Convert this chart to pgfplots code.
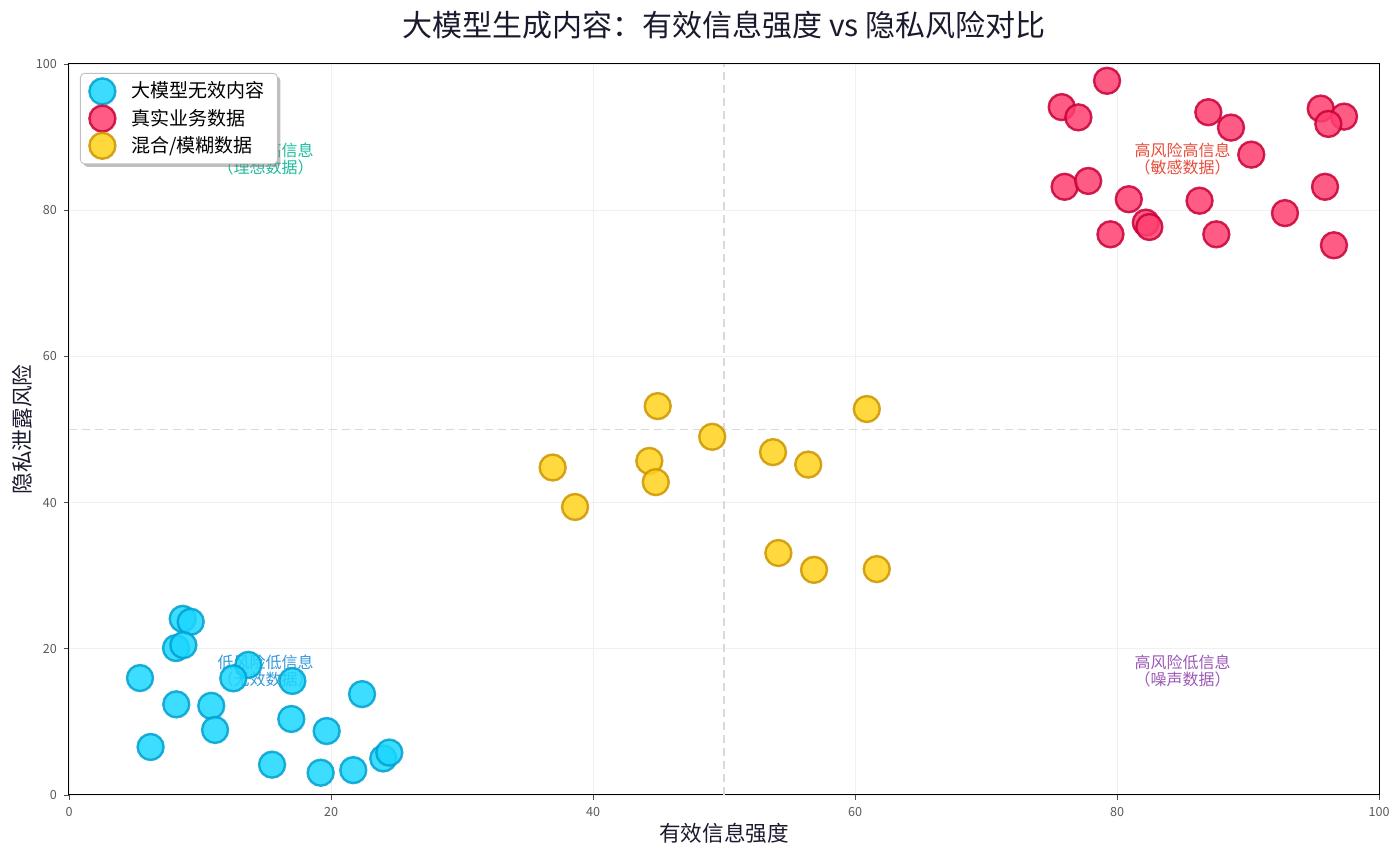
\documentclass[border=0pt]{standalone}
\usepackage{fontspec}
\setmainfont{Noto Sans CJK SC}
\usepackage{pgfplots}
\pgfplotsset{compat=1.18}
\usetikzlibrary{shadows}
\definecolor{cyF}{HTML}{1BD7FF}
\definecolor{cyE}{HTML}{00A1D1}
\definecolor{rdF}{HTML}{FF3F70}
\definecolor{rdE}{HTML}{C90037}
\definecolor{ylF}{HTML}{FFD21B}
\definecolor{ylE}{HTML}{CD9500}
\definecolor{titleC}{HTML}{1A1A2E}
\definecolor{anTeal}{HTML}{1ABC9C}
\definecolor{anBlue}{HTML}{3498DB}
\definecolor{anRed}{HTML}{E74C3C}
\definecolor{anPurple}{HTML}{9B59B6}
\begin{document}
\begin{tikzpicture}
\useasboundingbox (-34.5pt,-30pt) rectangle (665.5pt,397.5pt);
\begin{axis}[
  scale only axis,
  width=655pt, height=365.5pt,
  xmin=0, xmax=100, ymin=0, ymax=100,
  xtick={0,20,40,60,80,100}, ytick={0,20,40,60,80,100},
  /pgf/number format/assume math mode=true,
  tick label style={font=\fontsize{6.3}{7}\selectfont, text=black!65},
  tick align=outside, major tick length=2.5pt,
  tick style={black!70, line width=0.4pt},
  xtick pos=bottom, ytick pos=left,
  axis line style={line width=0.5pt},
  grid=major, grid style={black!6, line width=0.4pt},
  title={大模型生成内容：有效信息强度 vs 隐私风险对比},
  every axis title shift=0pt,
  title style={at={(axis description cs:0.5,1)}, anchor=center, yshift=19.5pt, font=\fontsize{15}{17}\selectfont, text=titleC},
  xlabel={有效信息强度},
  ylabel={隐私泄露风险},
  xlabel style={at={(axis description cs:0.5,0)}, anchor=center, yshift=-19pt, font=\fontsize{10.8}{12}\selectfont, text=titleC},
  ylabel style={at={(axis description cs:0,0.5)}, anchor=center, yshift=23.5pt, font=\fontsize{10.8}{12}\selectfont, text=titleC},
  legend style={at={(axis description cs:0,1)}, anchor=north west, xshift=5.5pt, yshift=-4.5pt,
    draw=black!25, rounded corners=2pt, fill=white,
    drop shadow={shadow xshift=1.5pt, shadow yshift=-1.5pt, fill=black!50},
    font=\fontsize{9.5}{11}\selectfont, row sep=0.6pt, inner xsep=4.5pt, inner ysep=2.5pt,
    nodes={inner ysep=1.2pt, inner xsep=2pt},
    /tikz/every odd column/.append style={column sep=6pt}},
  legend cell align=left,
]
\addplot[only marks, mark=*, mark size=6.5pt, mark options={fill=cyF, draw=cyE, line width=1.2pt, opacity=0.85}]
coordinates {
(8.68,24.1) (9.29,23.7) (8.17,20.1) (8.73,20.5) (5.42,16.0) (13.69,17.8)
(12.54,15.96) (17.05,15.6) (22.37,13.8) (8.19,12.4) (10.86,12.2) (11.15,8.9)
(16.97,10.4) (19.67,8.75) (6.23,6.57) (15.5,4.15) (19.21,3.05) (21.7,3.4)
(23.99,5.0) (24.45,5.8)
};
\addlegendentry{大模型无效内容}
\addplot[only marks, mark=*, mark size=6.5pt, mark options={fill=rdF, draw=rdE, line width=1.2pt, opacity=0.85}]
coordinates {
(79.24,97.7) (75.78,94.1) (77.05,92.7) (86.97,93.4) (88.7,91.3) (95.55,93.9)
(97.33,92.8) (96.13,91.8) (90.25,87.6) (76.0,83.2) (77.8,84.0) (80.9,81.5)
(86.3,81.3) (95.88,83.2) (79.5,76.7) (82.2,78.3) (82.47,77.7) (87.58,76.7)
(92.82,79.6) (96.56,75.2)
};
\addlegendentry{真实业务数据}
\addplot[only marks, mark=*, mark size=6.5pt, mark options={fill=ylF, draw=ylE, line width=1.2pt, opacity=0.85}]
coordinates {
(44.94,53.2) (49.1,49.0) (60.9,52.8) (36.92,44.8) (44.3,45.7) (44.79,42.8)
(38.63,39.4) (53.74,46.9) (56.43,45.2) (54.15,33.1) (56.87,30.8) (61.66,30.9)
};
\addlegendentry{混合/模糊数据}
\draw[black!15, dash pattern=on 4pt off 2.5pt, line width=0.7pt] (axis cs:50,0) -- (axis cs:50,100);
\draw[black!15, dash pattern=on 4pt off 2.5pt, line width=0.7pt] (axis cs:0,50) -- (axis cs:100,50);
\node[align=center, text=anTeal, font=\fontsize{8}{8.5}\selectfont] at (axis cs:15,87) {低风险高信息\\（理想数据）};
\node[align=center, text=anBlue, font=\fontsize{8}{8.5}\selectfont] at (axis cs:15,17) {低风险低信息\\（无效数据）};
\node[align=center, text=anRed, font=\fontsize{8}{8.5}\selectfont] at (axis cs:85,87) {高风险高信息\\（敏感数据）};
\node[align=center, text=anPurple, font=\fontsize{8}{8.5}\selectfont] at (axis cs:85,17) {高风险低信息\\（噪声数据）};
\end{axis}
\end{tikzpicture}
\end{document}
